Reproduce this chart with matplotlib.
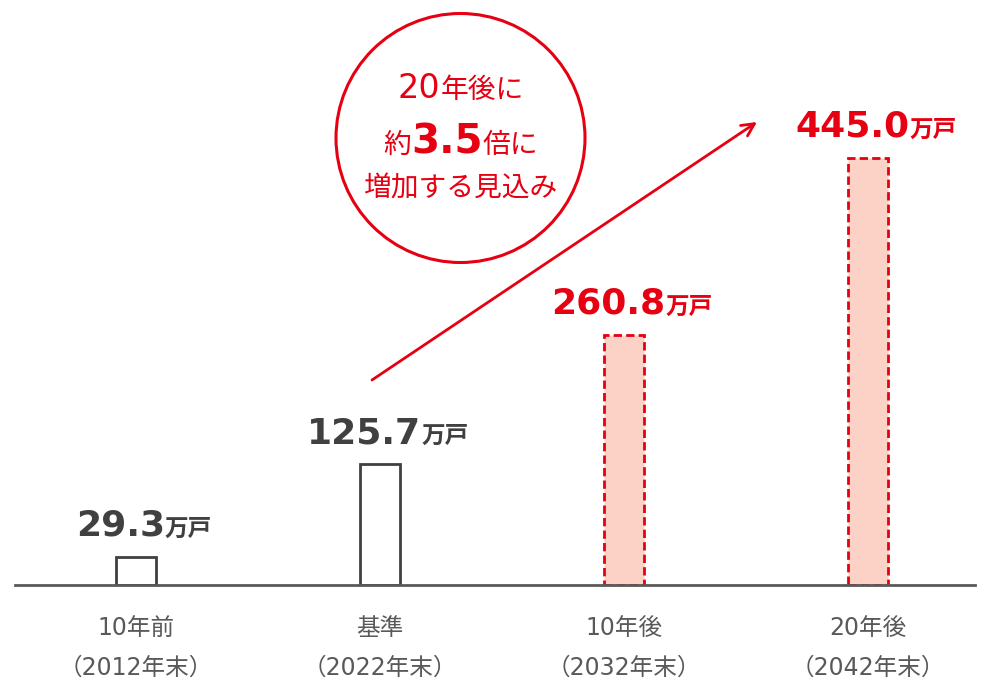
import matplotlib
matplotlib.use("Agg")
import matplotlib.pyplot as plt
from matplotlib.transforms import IdentityTransform
from matplotlib.patches import Circle

plt.rcParams['font.family'] = ['DejaVu Sans', 'Noto Sans CJK JP']

categories = ["10年前", "基準", "10年後", "20年後"]
sub_labels = ["（2012年末）", "（2022年末）", "（2032年末）", "（2042年末）"]
values = [29.3, 125.7, 260.8, 445.0]
value_labels = ["29.3", "125.7", "260.8", "445.0"]
unit = "万戸"
projected = [False, False, True, True]

W, H = 987, 684
fig = plt.figure(figsize=(W / 100, H / 100), dpi=100)
base_px = 585
scale = 0.96
ax = fig.add_axes([15 / W, (H - base_px) / H, 960 / W, base_px / H])
ax.set_xlim((15 - 136) / 244, (975 - 136) / 244)
ax.set_ylim(0, base_px / scale)
ax.axis('off')

RED = '#e60012'
DARK = '#404040'
GRAY = '#595959'
CJK = ['Noto Sans CJK JP', 'DejaVu Sans']

for i, v in enumerate(values):
    if projected[i]:
        ax.bar(i, v, width=40 / 244, facecolor='#fdd2c6', edgecolor=RED,
               linewidth=2, linestyle=(0, (3, 1.5)), zorder=2)
    else:
        ax.bar(i, v, width=40 / 244, facecolor='white', edgecolor=DARK,
               linewidth=2, zorder=2)

ax.plot([0, 1], [0, 0], transform=ax.transAxes, color=GRAY, lw=2, zorder=3,
        clip_on=False)

fig.canvas.draw()
renderer = fig.canvas.get_renderer()
ID = IdentityTransform()


def rich(xc, ybase, pieces):
    texts = []
    widths = []
    for s, fs, fw, col, fam in pieces:
        t = fig.text(0, 0, s, fontsize=fs, fontweight=fw, color=col,
                     family=fam, ha='left', va='baseline', transform=ID)
        widths.append(t.get_window_extent(renderer).width)
        texts.append(t)
    total = sum(widths)
    cur = xc - total / 2
    for t, w in zip(texts, widths):
        t.set_position((cur, ybase))
        cur += w


for i, v in enumerate(values):
    xd, yd = ax.transData.transform((i, v))
    col = RED if projected[i] else DARK
    rich(xd + 8, yd + 21, [(value_labels[i], 26, 'bold', col, 'DejaVu Sans'),
                            (unit, 17, 'bold', col, CJK)])
    fig.text(xd, H - 628, categories[i], fontsize=17, color=GRAY,
             ha='center', va='center', transform=ID)
    fig.text(xd, H - 668, sub_labels[i], fontsize=17, color=GRAY,
             ha='center', va='center', transform=ID)

# circle callout
cx, cy, r = 460.5, H - 138, 124.5
fig.patches.append(Circle((cx, cy), r, transform=ID, fill=False,
                          edgecolor=RED, linewidth=2.2))
rich(cx, H - 98, [("20", 24, 'normal', RED, 'DejaVu Sans'),
                  ("年後に", 20, 'normal', RED, CJK)])
rich(cx, H - 153, [("約", 20, 'normal', RED, CJK),
                   ("3.5", 29, 'bold', RED, 'DejaVu Sans'),
                   ("倍に", 20, 'normal', RED, CJK)])
rich(cx, H - 197, [("増加する見込み", 20, 'normal', RED, CJK)])

# arrow
ax.annotate('', xy=(757, H - 122), xytext=(372, H - 380),
            xycoords=ID, textcoords=ID,
            arrowprops=dict(arrowstyle='->,head_length=0.9,head_width=0.45',
                            color=RED, lw=2, shrinkA=0, shrinkB=0))

fig.savefig('out.png', dpi=100)
